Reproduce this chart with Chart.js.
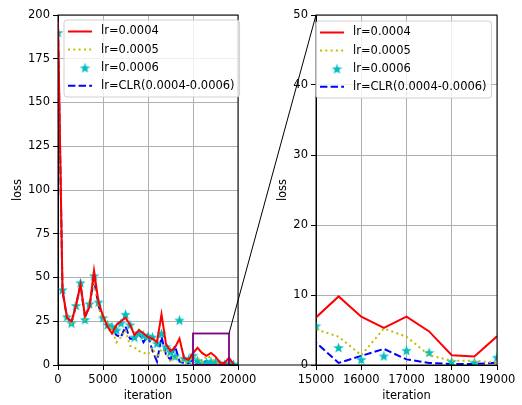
<!DOCTYPE html>
<html>
<head>
<meta charset="utf-8">
<script src="https://cdn.jsdelivr.net/npm/chart.js@4.4.1/dist/chart.umd.min.js"></script>
<style>
  body { margin: 0; background: #fff; }
  #wrap { position: relative; width: 522px; height: 405px; }
  canvas { position: absolute; top: 0; }
  #left { left: 0; }
  #right { left: 260px; }
  #overlay { left: 0; pointer-events: none; }
</style>
</head>
<body>
<div id="wrap">
  <canvas id="left" width="260" height="405"></canvas>
  <canvas id="right" width="262" height="405"></canvas>
  <canvas id="overlay" width="522" height="405"></canvas>
</div>
<script>
// iterations the loss was logged at
var iterations = [0, 500, 1000, 1500, 2000, 2500, 3000, 3500, 4000, 4500,
  5000, 5500, 6000, 6500, 7000, 7500, 8000, 8500, 9000, 9500,
  10000, 10500, 11000, 11500, 12000, 12500, 13000, 13500, 14000, 14500,
  15000, 15500, 16000, 16500, 17000, 17500, 18000, 18500, 19000, 19500];

// loss curves
var loss0004 = [196, 43, 27, 25, 34, 46, 28, 33, 54, 36,
  28, 22, 18, 23, 25, 27, 23, 17, 20, 18,
  16, 15, 13, 29, 12, 8, 10, 15, 4, 3,
  6.8, 9.8, 6.9, 5.3, 6.9, 4.8, 1.4, 1.2, 4.1, 0.5];
var loss0005 = [190, 43, 27, 24, 33, 45, 27, 34, 48, 33,
  26, 24, 20, 13, 16, 20, 11, 10, 8, 7,
  6, 10, 4, 9, 7, 2, 5, 3, 1.5, 2,
  5.1, 4.05, 1.4, 5.2, 4.05, 1.4, 0.6, 0.6, 0.3, 0.3];
var loss0006 = [190, 43, 27.6, 24, 34, 47, 26, 35, 51, 36,
  27, 23, 22, 20, 24, 29, 23, 16, 18.5, 17,
  16.5, 16, 12.4, 18, 10.5, 7.6, 5, 25.7, 3.8, 3,
  5.6, 2.5, 0.8, 1.3, 2.1, 1.8, 0.5, 0.4, 1.1, 0.5];
var lossCLR = [192, 42, 27, 24, 34, 46, 27, 34, 49, 34,
  26, 23, 21, 17, 16, 22, 15, 15, 18, 13,
  17, 8, 2, 16, 6, 3, 11, 2, 1, 1,
  3.2, 0.3, 1.3, 2.3, 0.8, 0.3, 0.14, 0.14, 0.33, 0.3];

var seriesLabels = ['lr=0.0004', 'lr=0.0005', 'lr=0.0006', 'lr=CLR(0.0004-0.0006)'];

// zoomed region shown on the right
var zoomX = [15000, 19000];
var zoomY = [0, 18];

var leftYTicks = [0, 200, 25];
var rightYTicks = [0, 50, 10];
var leftXTicks = [0, 20000, 5000];
var rightXTicks = [15000, 19000, 1000];

var FONT = '"DejaVu Sans", sans-serif';
Chart.defaults.font.family = FONT;
Chart.defaults.font.size = 11.5;
Chart.defaults.color = '#000';

// filled five point star like matplotlib's '*' marker
function makeStar(size, color) {
  var c = document.createElement('canvas');
  c.width = size; c.height = size;
  var g = c.getContext('2d');
  var r = size / 2, ri = r * 0.42;
  g.beginPath();
  for (var i = 0; i < 10; i++) {
    var a = -Math.PI / 2 + i * Math.PI / 5;
    var rr = i % 2 === 0 ? r : ri;
    var px = r + rr * Math.cos(a), py = r + 0.6 + rr * Math.sin(a);
    if (i === 0) g.moveTo(px, py); else g.lineTo(px, py);
  }
  g.closePath();
  g.fillStyle = color;
  g.fill();
  return c;
}
var starImg = makeStar(11, '#00bfbf');

function points(ys) {
  return iterations.map(function(x, i) { return { x: x, y: ys[i] }; });
}

function makeDatasets() {
  return [
    { label: seriesLabels[0], data: points(loss0004), borderColor: '#ff0000', borderWidth: 2,
      pointRadius: 0, fill: false, tension: 0, clip: 0 },
    { label: seriesLabels[1], data: points(loss0005), borderColor: '#bfbf00', borderWidth: 2,
      borderDash: [2, 3.3], pointRadius: 0, fill: false, tension: 0, clip: 0 },
    { label: seriesLabels[2], data: points(loss0006), showLine: false, borderColor: '#00bfbf',
      pointStyle: starImg, pointRadius: 5, clip: 0 },
    { label: seriesLabels[3], data: points(lossCLR), borderColor: '#0000ff', borderWidth: 2,
      borderDash: [7.4, 3.2], pointRadius: 0, fill: false, tension: 0, clip: 0 }
  ];
}

// legend box inside the plot, matplotlib style
var insideLegend = {
  id: 'insideLegend',
  afterDraw: function(chart, args, opts) {
    var ctx = chart.ctx, a = chart.chartArea;
    var x0 = a.left + opts.dx, y0 = a.top + opts.dy;
    ctx.save();
    ctx.font = '11.5px ' + FONT;
    var w = 0;
    chart.data.datasets.forEach(function(ds) { w = Math.max(w, ctx.measureText(ds.label).width); });
    var bw = 37 + w + 5, bh = 77, r = 3;
    ctx.beginPath();
    ctx.moveTo(x0 + r, y0);
    ctx.arcTo(x0 + bw, y0, x0 + bw, y0 + bh, r);
    ctx.arcTo(x0 + bw, y0 + bh, x0, y0 + bh, r);
    ctx.arcTo(x0, y0 + bh, x0, y0, r);
    ctx.arcTo(x0, y0, x0 + bw, y0, r);
    ctx.closePath();
    ctx.fillStyle = 'rgba(255,255,255,0.8)';
    ctx.fill();
    ctx.strokeStyle = '#d0d0d0';
    ctx.lineWidth = 1;
    ctx.stroke();
    chart.data.datasets.forEach(function(ds, i) {
      var cy = y0 + 11.5 + i * 18.1;
      if (ds.showLine === false) {
        ctx.drawImage(starImg, x0 + 15.5, cy - 5.5);
      } else {
        ctx.beginPath();
        ctx.setLineDash(ds.borderDash || []);
        ctx.strokeStyle = ds.borderColor;
        ctx.lineWidth = ds.borderWidth;
        ctx.moveTo(x0 + 4, cy);
        ctx.lineTo(x0 + 28, cy);
        ctx.stroke();
        ctx.setLineDash([]);
      }
      ctx.fillStyle = '#000';
      ctx.textBaseline = 'middle';
      ctx.fillText(ds.label, x0 + 37, cy);
    });
    ctx.restore();
  }
};

// black frame around the plot and the zoom rectangle
var frame = {
  id: 'frame',
  afterDatasetsDraw: function(chart, args, opts) {
    var ctx = chart.ctx, a = chart.chartArea;
    ctx.save();
    if (opts.zoomBox) {
      var sx = chart.scales.x, sy = chart.scales.y;
      var x1 = sx.getPixelForValue(zoomX[0]), x2 = sx.getPixelForValue(zoomX[1]);
      var y1 = sy.getPixelForValue(zoomY[1]), y2 = sy.getPixelForValue(zoomY[0]);
      ctx.strokeStyle = '#800080';
      ctx.lineWidth = 1.8;
      ctx.strokeRect(x1, y1, x2 - x1, y2 - y1);
    }
    ctx.strokeStyle = '#000';
    ctx.lineWidth = 1;
    ctx.strokeRect(a.left, a.top, a.right - a.left, a.bottom - a.top);
    ctx.restore();
  }
};

function makeChart(id, xt, yt, padLeft, padRight, yWidth, legendDx, legendDy, zoomBox) {
  return new Chart(document.getElementById(id), {
    type: 'line',
    data: { datasets: makeDatasets() },
    options: {
      responsive: false,
      animation: false,
      layout: { padding: { left: padLeft, right: padRight, top: 15, bottom: 0 } },
      plugins: {
        legend: { display: false },
        tooltip: { enabled: false },
        insideLegend: { dx: legendDx, dy: legendDy },
        frame: { zoomBox: zoomBox }
      },
      scales: {
        x: {
          type: 'linear', min: xt[0], max: xt[1],
          ticks: { stepSize: xt[2], padding: 3, maxRotation: 0,
            callback: function(v) { return String(v); } },
          grid: { color: '#b0b0b0', lineWidth: 1, tickColor: '#000', tickLength: 5 },
          border: { color: '#000', width: 1 },
          title: { display: true, text: 'iteration', padding: { top: 4, bottom: 2 } },
          afterFit: function(s) { s.height = 40; }
        },
        y: {
          min: yt[0], max: yt[1],
          ticks: { stepSize: yt[2], padding: 3 },
          grid: { color: '#b0b0b0', lineWidth: 1, tickColor: '#000', tickLength: 5 },
          border: { color: '#000', width: 1 },
          title: { display: true, text: 'loss', padding: { top: 4, bottom: 4 } },
          afterFit: function(s) { s.width = yWidth; }
        }
      }
    },
    plugins: [frame, insideLegend]
  });
}

var leftChart = makeChart('left', leftXTicks, leftYTicks, 7, 22, 51, 6, 5, true);
var rightChart = makeChart('right', rightXTicks, rightYTicks, 12, 25, 44, 0, 6, false);

// connector lines from the zoom box to the zoomed plot
var oc = document.getElementById('overlay').getContext('2d');
var lsx = leftChart.scales.x, lsy = leftChart.scales.y;
var rsx = rightChart.scales.x, rsy = rightChart.scales.y;
var offset = 260;
oc.strokeStyle = '#000';
oc.lineWidth = 1;
oc.beginPath();
oc.moveTo(lsx.getPixelForValue(zoomX[1]), lsy.getPixelForValue(zoomY[1]));
oc.lineTo(offset + rsx.getPixelForValue(zoomX[0]), rsy.getPixelForValue(rightYTicks[1]));
oc.moveTo(lsx.getPixelForValue(zoomX[1]), lsy.getPixelForValue(zoomY[0]));
oc.lineTo(offset + rsx.getPixelForValue(zoomX[0]), rsy.getPixelForValue(rightYTicks[0]));
oc.stroke();
</script>
</body>
</html>
